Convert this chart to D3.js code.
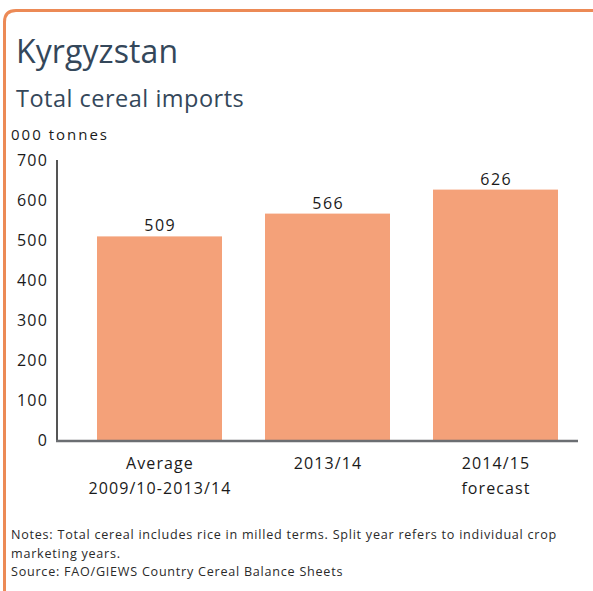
<!DOCTYPE html>
<html><head><meta charset="utf-8">
<script src="https://cdn.jsdelivr.net/npm/d3@7"></script>
<style>body{margin:0;background:#fff;}svg{display:block;font-family:"Open Sans",sans-serif;}</style>
</head><body>
<svg id="c" width="593" height="591"></svg>
<script>
const categories = ["Average|2009/10-2013/14", "2013/14", "2014/15|forecast"];
const values = [509, 566, 626];
const yTicks = [0, 100, 200, 300, 400, 500, 600, 700];
const title = "Kyrgyzstan";
const subtitle = "Total cereal imports";
const unit = "000 tonnes";
const notes = ["Notes: Total cereal includes rice in milled terms. Split year refers to individual crop",
               "marketing years.",
               "Source: FAO/GIEWS Country Cereal Balance Sheets"];

const svg = d3.select("#c");
// frame
svg.append("path")
  .attr("d", "M4.5,593 L4.5,22 Q4.5,10.5 16,10.5 L593,10.5")
  .attr("fill", "none").attr("stroke", "#ec8a56").attr("stroke-width", 3);

svg.append("text").attr("x", 16).attr("y", 63).attr("fill", "#34475a")
  .attr("font-size", 32).attr("letter-spacing", 0.1).text(title);
svg.append("text").attr("x", 16).attr("y", 107).attr("fill", "#34475a")
  .attr("font-size", 23.5).attr("letter-spacing", 0.5).text(subtitle);
svg.append("text").attr("x", 11).attr("y", 140).attr("fill", "#1a1a1a")
  .attr("font-size", 15).attr("letter-spacing", 2).text(unit);

const y = d3.scaleLinear().domain([0, 700]).range([440, 160]);
const x = d3.scaleBand().domain(categories).range([75.5, 579.5])
  .paddingInner(0.256).paddingOuter(0.128);

// bars
svg.selectAll("rect.bar").data(values).join("rect")
  .attr("class", "bar")
  .attr("x", (d, i) => x(categories[i]))
  .attr("width", x.bandwidth())
  .attr("y", d => y(d))
  .attr("height", d => y(0) - y(d))
  .attr("fill", "#f4a179");

// value labels
svg.selectAll("text.val").data(values).join("text")
  .attr("class", "val")
  .attr("x", (d, i) => x(categories[i]) + x.bandwidth() / 2 + 0.8)
  .attr("y", d => y(d) - 5)
  .attr("text-anchor", "middle").attr("font-size", 16).attr("letter-spacing", 1.5)
  .attr("fill", "#1a1a1a")
  .text(d => d);

// y axis
const yAxis = d3.axisLeft(y).tickValues(yTicks).tickSize(0).tickPadding(9);
const gy = svg.append("g").attr("transform", "translate(57,0)").call(yAxis);
gy.select(".domain").remove();
gy.selectAll("text").attr("font-size", 16).attr("fill", "#1a1a1a")
  .attr("letter-spacing", 1.2)
  .attr("font-family", "Open Sans, sans-serif");
svg.append("line").attr("x1", 57).attr("x2", 57).attr("y1", y(700)).attr("y2", y(0) + 1)
  .attr("stroke", "#555").attr("stroke-width", 2);
svg.append("line").attr("x1", 56).attr("x2", 578).attr("y1", y(0) + 1).attr("y2", y(0) + 1)
  .attr("stroke", "#6b6e72").attr("stroke-width", 2.5);

// x labels
const xl = svg.selectAll("text.xl").data(categories).join("text")
  .attr("class", "xl")
  .attr("y", 469)
  .attr("text-anchor", "middle").attr("font-size", 16).attr("letter-spacing", 1.1)
  .attr("fill", "#1a1a1a");
xl.each(function (d) {
  d.split("|").forEach((s, i) => {
    d3.select(this).append("tspan")
      .attr("x", x(d) + x.bandwidth() / 2 + 0.5)
      .attr("dy", i === 0 ? 0 : 25).text(s);
  });
});

// notes
svg.selectAll("text.note").data(notes).join("text")
  .attr("class", "note")
  .attr("x", 11).attr("y", (d, i) => 539 + i * 18.5)
  .attr("font-size", 12.6).attr("letter-spacing", 0.75).attr("fill", "#2a2a2a").text(d => d);
</script>
</body></html>
